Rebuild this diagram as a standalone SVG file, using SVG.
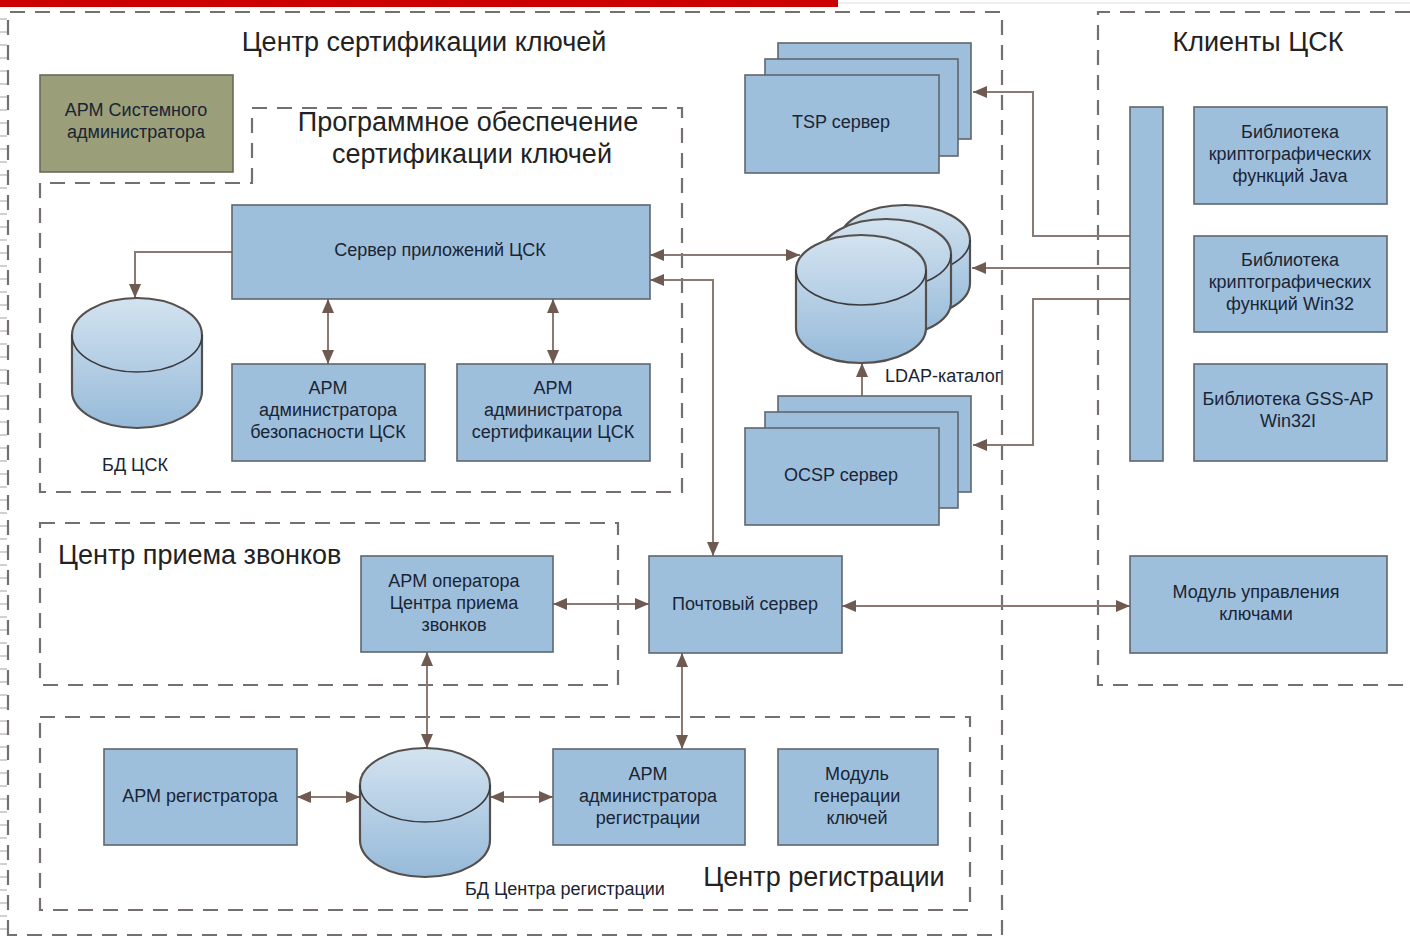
<svg xmlns="http://www.w3.org/2000/svg" width="1410" height="940" viewBox="0 0 1410 940">
<style>
.bg{fill:#ffffff}
.dash{fill:none;stroke:#75706d;stroke-width:2.2;stroke-dasharray:15 10}
.box{fill:#9dbfdc;stroke:#5f666e;stroke-width:1.6}
.olive{fill:#9a9f79;stroke:#6a6a5a;stroke-width:1.6}
.cyl{fill:url(#cg);stroke:#55504e;stroke-width:2.2}
.cyltop{fill:none;stroke:#3b3a40;stroke-width:1.6}
.t{font-family:"Liberation Sans",Arial,sans-serif;font-size:18px;fill:#1a2434;text-anchor:middle}
.ts{font-family:"Liberation Sans",Arial,sans-serif;font-size:18px;fill:#1a2434}
.title{font-family:"Liberation Sans",Arial,sans-serif;font-size:27px;fill:#222222}
.c{fill:none;stroke:#8a7a72;stroke-width:2}
</style>
<defs>
<linearGradient id="cg" x1="0" y1="0" x2="0" y2="1">
<stop offset="0" stop-color="#d3e3f0"/>
<stop offset="1" stop-color="#96bad9"/>
</linearGradient>
<marker id="ah" viewBox="0 0 14 12" refX="14" refY="6" markerWidth="14" markerHeight="12" markerUnits="userSpaceOnUse" orient="auto-start-reverse">
<path d="M0,0 L14,6 L0,12 Z" fill="#6e5a50"/>
</marker>
<pattern id="ticks" x="0" y="0" width="10" height="13" patternUnits="userSpaceOnUse">
<line x1="0" y1="6" x2="7" y2="6" stroke="#bdbdbd" stroke-width="1.4"/>
</pattern>
</defs>
<rect class="bg" x="0" y="0" width="1410" height="940"/>
<rect x="0" y="0" width="838" height="7" fill="#cc0000"/>
<line x1="838" y1="3" x2="1410" y2="3" stroke="#dddddd" stroke-width="1"/>
<rect x="0" y="14" width="8" height="922" fill="url(#ticks)"/>

<g id="containers">
<path class="dash" d="M8,935 V12 H1002 V935 Z"/>
<path class="dash" d="M1410,12 H1098 V685 H1410"/>
<path class="dash" d="M252,183 V108 H682 V492 H40 V183 Z"/>
<path class="dash" d="M40,523 H618 V685 H40 Z"/>
<path class="dash" d="M40,717 H970 V910 H40 Z"/>
<text class="title" x="424" y="51" text-anchor="middle">Центр сертификации ключей</text>
<text class="title" x="468" y="131" text-anchor="middle">Программное обеспечение</text>
<text class="title" x="472" y="163" text-anchor="middle">сертификации ключей</text>
<text class="title" x="1258" y="51" text-anchor="middle">Клиенты ЦСК</text>
<text class="title" x="58" y="564">Центр приема звонков</text>
<text class="title" x="824" y="886" text-anchor="middle">Центр регистрации</text>
</g>

<g id="connectors">
<path class="c" d="M232,252 H135 V298" marker-end="url(#ah)"/>
<path class="c" d="M328,299 V364" marker-start="url(#ah)" marker-end="url(#ah)"/>
<path class="c" d="M553,299 V364" marker-start="url(#ah)" marker-end="url(#ah)"/>
<path class="c" d="M650,255 H800" marker-start="url(#ah)" marker-end="url(#ah)"/>
<path class="c" d="M713,556 V280 H650" marker-start="url(#ah)" marker-end="url(#ah)"/>
<path class="c" d="M1130,236 H1033 V92 H973" marker-end="url(#ah)"/>
<path class="c" d="M1130,268 H972" marker-end="url(#ah)"/>
<path class="c" d="M1130,299 H1033 V445 H973" marker-end="url(#ah)"/>
<path class="c" d="M862,396 V363" marker-end="url(#ah)"/>
<path class="c" d="M553,604 H649" marker-start="url(#ah)" marker-end="url(#ah)"/>
<path class="c" d="M842,606 H1130" marker-start="url(#ah)" marker-end="url(#ah)"/>
<path class="c" d="M427,652 V748" marker-start="url(#ah)" marker-end="url(#ah)"/>
<path class="c" d="M682,653 V749" marker-start="url(#ah)" marker-end="url(#ah)"/>
<path class="c" d="M297,797 H360" marker-start="url(#ah)" marker-end="url(#ah)"/>
<path class="c" d="M490,797 H553" marker-start="url(#ah)" marker-end="url(#ah)"/>
</g>

<g id="arm-sysadmin">
<rect class="olive" x="40" y="75" width="193" height="97"/>
<text class="t" x="136" y="116">АРМ Системного</text>
<text class="t" x="136" y="138">администратора</text>
</g>

<g id="app-server">
<rect class="box" x="232" y="205" width="418" height="94"/>
<text class="t" x="440" y="256">Сервер приложений ЦСК</text>
</g>

<g id="db-csk">
<path class="cyl" d="M72,335 A65,37 0 0 1 202,335 V391 A65,37 0 0 1 72,391 Z"/>
<path class="cyltop" d="M72,335 A65,37 0 0 0 202,335"/>
<text class="t" x="135" y="471">БД ЦСК</text>
</g>

<g id="arm-security">
<rect class="box" x="232" y="364" width="193" height="97"/>
<text class="t" x="328" y="394">АРМ</text>
<text class="t" x="328" y="416">администратора</text>
<text class="t" x="328" y="438">безопасности ЦСК</text>
</g>

<g id="arm-cert">
<rect class="box" x="457" y="364" width="193" height="97"/>
<text class="t" x="553" y="394">АРМ</text>
<text class="t" x="553" y="416">администратора</text>
<text class="t" x="553" y="438">сертификации ЦСК</text>
</g>

<g id="tsp">
<rect class="box" x="778" y="43" width="193" height="96"/>
<rect class="box" x="765" y="59" width="193" height="97"/>
<rect class="box" x="745" y="75" width="194" height="98"/>
<text class="t" x="841" y="128">TSP сервер</text>
</g>

<g id="ldap">
<path class="cyl" d="M840,240 A65,35 0 0 1 970,240 V283 A65,35 0 0 1 840,283 Z"/>
<path class="cyltop" d="M840,240 A65,35 0 0 0 970,240"/>
<path class="cyl" d="M821,254 A65,35 0 0 1 951,254 V302 A65,35 0 0 1 821,302 Z"/>
<path class="cyltop" d="M821,254 A65,35 0 0 0 951,254"/>
<path class="cyl" d="M796,270 A65,35 0 0 1 926,270 V328 A65,35 0 0 1 796,328 Z"/>
<path class="cyltop" d="M796,270 A65,35 0 0 0 926,270"/>
<text class="ts" x="885" y="382">LDAP-каталог</text>
</g>

<g id="ocsp">
<rect class="box" x="778" y="396" width="193" height="96"/>
<rect class="box" x="765" y="412" width="193" height="96"/>
<rect class="box" x="745" y="428" width="194" height="97"/>
<text class="t" x="841" y="481">OCSP сервер</text>
</g>

<g id="clients-bus">
<rect class="box" x="1130" y="107" width="33" height="354"/>
</g>

<g id="lib-java">
<rect class="box" x="1194" y="107" width="193" height="97"/>
<text class="t" x="1290" y="138">Библиотека</text>
<text class="t" x="1290" y="160">криптографических</text>
<text class="t" x="1290" y="182">функций Java</text>
</g>

<g id="lib-win32">
<rect class="box" x="1194" y="236" width="193" height="96"/>
<text class="t" x="1290" y="266">Библиотека</text>
<text class="t" x="1290" y="288">криптографических</text>
<text class="t" x="1290" y="310">функций Win32</text>
</g>

<g id="lib-gss">
<rect class="box" x="1194" y="364" width="193" height="97"/>
<text class="t" x="1288" y="405">Библиотека GSS-AP</text>
<text class="t" x="1288" y="427">Win32I</text>
</g>

<g id="arm-operator">
<rect class="box" x="361" y="556" width="192" height="96"/>
<text class="t" x="454" y="587">АРМ оператора</text>
<text class="t" x="454" y="609">Центра приема</text>
<text class="t" x="454" y="631">звонков</text>
</g>

<g id="mail-server">
<rect class="box" x="649" y="556" width="193" height="97"/>
<text class="t" x="745" y="610">Почтовый сервер</text>
</g>

<g id="key-mgmt">
<rect class="box" x="1130" y="556" width="257" height="97"/>
<text class="t" x="1256" y="598">Модуль управления</text>
<text class="t" x="1256" y="620">ключами</text>
</g>

<g id="arm-registrar">
<rect class="box" x="104" y="749" width="193" height="96"/>
<text class="t" x="200" y="802">АРМ регистратора</text>
</g>

<g id="db-rc">
<path class="cyl" d="M360,785 A65,37 0 0 1 490,785 V840 A65,37 0 0 1 360,840 Z"/>
<path class="cyltop" d="M360,785 A65,37 0 0 0 490,785"/>
<text class="ts" x="465" y="895">БД Центра регистрации</text>
</g>

<g id="arm-reg-admin">
<rect class="box" x="553" y="749" width="192" height="96"/>
<text class="t" x="648" y="780">АРМ</text>
<text class="t" x="648" y="802">администратора</text>
<text class="t" x="648" y="824">регистрации</text>
</g>

<g id="keygen">
<rect class="box" x="778" y="749" width="160" height="96"/>
<text class="t" x="857" y="780">Модуль</text>
<text class="t" x="857" y="802">генерации</text>
<text class="t" x="857" y="824">ключей</text>
</g>
</svg>
